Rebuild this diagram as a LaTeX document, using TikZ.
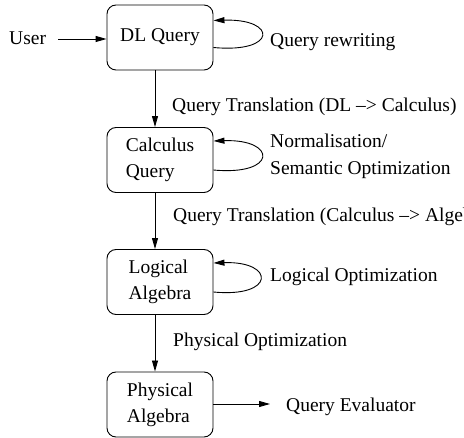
\documentclass[tikz,border=0pt]{standalone}
\usepackage{fontspec}
\setmainfont{Liberation Serif}
\usetikzlibrary{arrows.meta}

\begin{document}
\begin{tikzpicture}[x=1pt, y=-1pt,
  every node/.style={font=\fontsize{19.5}{26}\selectfont},
  stage/.style={draw, line width=0.9pt, rounded corners=9pt,
    minimum width=106pt, minimum height=65pt,
    align=left, inner sep=0pt},
  lbl/.style={anchor=base west, inner sep=0pt},
  arr/.style={line width=0.9pt, -{Triangle[length=11pt, width=6pt]}}]

  \useasboundingbox (0,0) rectangle (464,438);
  \clip (0,0) rectangle (464,438);

  % processing stages
  \node[stage] (dl) at (160,37.5) {DL Query};
  \node[stage] (cq) at (160,160) {Calculus\\Query};
  \node[stage] (la) at (160,282) {Logical\\Algebra};
  \node[stage] (pa) at (160,404.5) {Physical\\Algebra};

  % input and output
  \node[lbl] (user) at (9,45) {User};
  \coordinate (eval) at (270,404);
  \node[lbl] (evaltxt) at (286,412) {Query Evaluator};

  \draw[arr] (58,39) coordinate (ustart) -- (ustart -| dl.west);
  \draw[arr] (pa.east |- eval) -- (eval);

  % translations between stages
  \draw[arr] ([xshift=-5pt]dl.south) -- ([xshift=-5pt]cq.north);
  \draw[arr] ([xshift=-5pt]cq.south) -- ([xshift=-5pt]la.north);
  \draw[arr] ([xshift=-5pt]la.south) -- ([xshift=-5pt]pa.north);

  \node[lbl] (t1) at (172,112) {Query Translation (DL --{}> Calculus)};
  \node[lbl] (t2) at (173,222) {Query Translation (Calculus --{}> Algebra)};
  \node[lbl] (t3) at (173,347) {Physical Optimization};

  % rewriting loops
  \draw[arr] ([yshift=-10pt]dl.east) .. controls +(64,6) and +(64,-2) .. ([yshift=17pt]dl.east);
  \draw[arr] ([yshift=-10pt]cq.east) .. controls +(64,6) and +(64,-2) .. ([yshift=19pt]cq.east);
  \draw[arr] ([yshift=-10pt]la.east) .. controls +(62,6) and +(62,-2) .. ([yshift=19pt]la.east);

  \node[lbl] (l1) at (270,47) {Query rewriting};
  \node[lbl] (l2a) at (270,148) {Normalisation/};
  \node[lbl] (l2b) at (270,175) {Semantic Optimization};
  \node[lbl] (l3) at (270,282) {Logical Optimization};
\end{tikzpicture}
\end{document}
